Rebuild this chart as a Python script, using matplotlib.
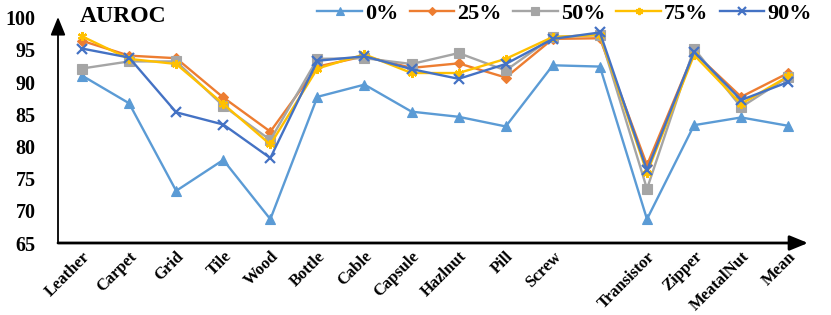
import matplotlib
matplotlib.use("Agg")
import matplotlib.pyplot as plt

plt.rcParams["font.family"] = ["Liberation Serif", "DejaVu Serif"]
plt.rcParams["font.weight"] = "bold"

categories = ["Leather", "Carpet", "Grid", "Tile", "Wood", "Bottle", "Cable", "Capsule",
              "Hazlnut", "Pill", "Screw", "", "Transistor", "Zipper", "MeatalNut", "Mean"]

auroc_0 = [91.0, 86.7, 73.1, 77.9, 68.7, 87.7, 89.6, 85.4, 84.6, 83.1, 92.6, 92.4, 68.7, 83.3, 84.5, 83.2]
auroc_25 = [96.4, 94.1, 93.7, 87.6, 82.3, 92.4, 94.0, 92.2, 92.9, 90.7, 96.7, 96.8, 77.1, 94.6, 87.7, 91.4]
auroc_50 = [92.1, 93.2, 93.2, 86.3, 81.0, 93.6, 93.7, 92.8, 94.5, 91.8, 97.0, 97.3, 73.4, 95.2, 86.1, 90.8]
auroc_75 = [97.1, 93.6, 92.8, 86.6, 80.3, 92.1, 94.3, 91.4, 91.4, 93.6, 97.0, 97.3, 75.9, 94.2, 86.6, 90.9]
auroc_90 = [95.2, 93.8, 85.3, 83.4, 78.2, 93.3, 94.0, 92.0, 90.5, 92.8, 96.7, 97.7, 76.3, 94.7, 87.2, 90.0]

series = [
    ("0%", auroc_0, "#5B9BD5", "^"),
    ("25%", auroc_25, "#ED7D31", "D"),
    ("50%", auroc_50, "#A5A5A5", "s"),
    ("75%", auroc_75, "#FFC000", (6, 2, 0)),
    ("90%", auroc_90, "#4472C4", "x"),
]

fig = plt.figure(figsize=(8.31, 3.15), dpi=100)
# axes box placed by pixel: left 58, right 808, bottom 243, top 17
ax = fig.add_axes([58 / 831, (315 - 243) / 315, (808 - 58) / 831, (243 - 17) / 315])

x = list(range(len(categories)))
for name, vals, col, mk in series:
    ms = 5 if mk == "D" else 6.5
    ax.plot(x, vals, color=col, linewidth=1.7, marker=mk, markersize=ms,
            markeredgewidth=1.6 if mk in ("x", (6, 2, 0)) else 0.8, label=name)

ax.set_xlim(-0.51, 15.42)
ax.set_ylim(65, 100.1)
ax.set_yticks([65, 70, 75, 80, 85, 90, 95, 100])
ax.set_xticks(x)
ax.set_xticklabels(categories, rotation=45, ha="right", va="top",
                   rotation_mode="anchor", fontsize=12, fontweight="bold")
ax.tick_params(axis="both", length=0)
ax.tick_params(axis="y", labelsize=14.5, pad=16)
ax.tick_params(axis="x", pad=4)
for s in ax.spines.values():
    s.set_visible(False)

# axis lines with arrow heads
ax.annotate("", xy=(1.0, 0), xytext=(0, 0), xycoords="axes fraction",
            arrowprops=dict(arrowstyle="-|>,head_length=1.1,head_width=0.45",
                            color="black", lw=2.0, shrinkA=0, shrinkB=0))
ax.annotate("", xy=(0, 1.0), xytext=(0, 0), xycoords="axes fraction",
            arrowprops=dict(arrowstyle="-|>,head_length=1.1,head_width=0.45",
                            color="black", lw=1.3, shrinkA=0, shrinkB=0))

fig.text(80 / 831, 1 - 17 / 315, "AUROC", fontsize=17, fontweight="bold", va="center")

fig.legend(loc="center right", bbox_to_anchor=(812 / 831, 1 - 14 / 315), ncol=5,
           frameon=False, fontsize=16, handlelength=2.0, handletextpad=0.15,
           columnspacing=0.5, borderaxespad=0, borderpad=0, markerscale=0.8)

fig.savefig("out.png", dpi=100)
